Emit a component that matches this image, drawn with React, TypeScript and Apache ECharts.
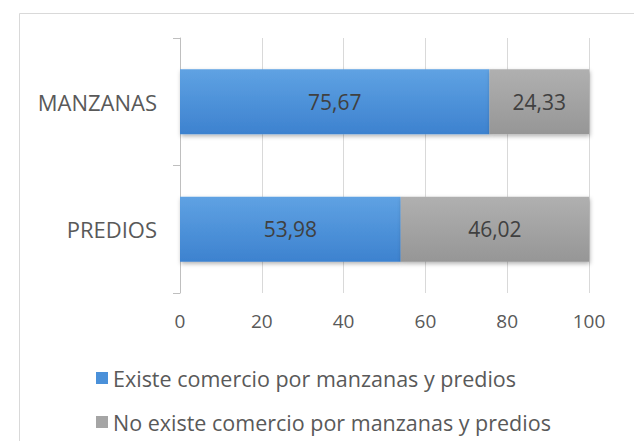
import React, { useEffect, useRef } from "react";
import * as echarts from "echarts";

const categories = ["PREDIOS", "MANZANAS"];
const existeValues = [53.98, 75.67];
const noExisteValues = [46.02, 24.33];
const seriesNames = [
  "Existe comercio por manzanas y predios",
  "No existe comercio por manzanas y predios",
];
const xTicks = [0, 20, 40, 60, 80, 100];

const FONT = "'Open Sans', 'Noto Sans', sans-serif";

export default function App() {
  const ref = useRef<HTMLDivElement>(null);
  useEffect(() => {
    if (!ref.current) return;
    const chart = echarts.init(ref.current, null, { renderer: "svg" });
    const fmt = (p: any) => Number(p.value).toFixed(2).replace(".", ",");
    const blue = new echarts.graphic.LinearGradient(0, 0, 0, 1, [
      { offset: 0, color: "#5fa2e3" },
      { offset: 1, color: "#3d82cf" },
    ]);
    const gray = new echarts.graphic.LinearGradient(0, 0, 0, 1, [
      { offset: 0, color: "#b0b0b0" },
      { offset: 1, color: "#969696" },
    ]);
    const barLabel = {
      show: true,
      position: "inside",
      color: "#404040",
      fontSize: 21,
      fontFamily: FONT,
      formatter: fmt,
    };
    const shadow = {
      shadowBlur: 4,
      shadowOffsetX: 1,
      shadowOffsetY: 2,
      shadowColor: "rgba(0,0,0,0.3)",
    };
    chart.setOption({
      animation: false,
      backgroundColor: "#ffffff",
      textStyle: { fontFamily: FONT },
      graphic: [
        {
          type: "rect",
          shape: { x: 19.5, y: 13.5, width: 640, height: 460 },
          style: { fill: "none", stroke: "#d9d9d9", lineWidth: 1 },
          silent: true,
          z: -1,
        },
      ],
      grid: { left: 180, right: 45, top: 38, bottom: 148 },
      xAxis: {
        type: "value",
        min: 0,
        max: 100,
        interval: 20,
        axisLine: { show: false },
        axisTick: { show: false },
        axisLabel: {
          color: "#595959",
          fontSize: 19,
          fontFamily: FONT,
          margin: 18,
          formatter: (v: number) => (xTicks.includes(v) ? String(v) : ""),
        },
        splitLine: { show: true, lineStyle: { color: "#d9d9d9", width: 1 } },
      },
      yAxis: {
        type: "category",
        data: categories,
        axisLine: { show: true, lineStyle: { color: "#bfbfbf" } },
        axisTick: { show: true, length: 7, lineStyle: { color: "#bfbfbf" } },
        axisLabel: { color: "#595959", fontSize: 22, fontFamily: FONT, margin: 23 },
      },
      legend: {
        orient: "vertical",
        left: 96,
        top: 366,
        padding: 0,
        itemWidth: 12,
        itemHeight: 12,
        itemGap: 20,
        icon: "rect",
        textStyle: { color: "#595959", fontSize: 21.5, fontFamily: FONT, lineHeight: 24 },
        data: [
          { name: seriesNames[0], itemStyle: { color: "#4a90d9", shadowBlur: 0 } },
          { name: seriesNames[1], itemStyle: { color: "#a5a5a5", shadowBlur: 0 } },
        ],
      },
      series: [
        {
          name: seriesNames[0],
          type: "bar",
          stack: "total",
          data: existeValues,
          barCategoryGap: "49%",
          itemStyle: { color: blue, ...shadow },
          label: barLabel,
        },
        {
          name: seriesNames[1],
          type: "bar",
          stack: "total",
          data: noExisteValues,
          barCategoryGap: "49%",
          itemStyle: { color: gray, ...shadow },
          label: barLabel,
        },
      ],
    });
    return () => chart.dispose();
  }, []);
  return (
    <div
      ref={ref}
      style={{ position: "fixed", left: 0, top: 0, width: 634, height: 441 }}
    />
  );
}
